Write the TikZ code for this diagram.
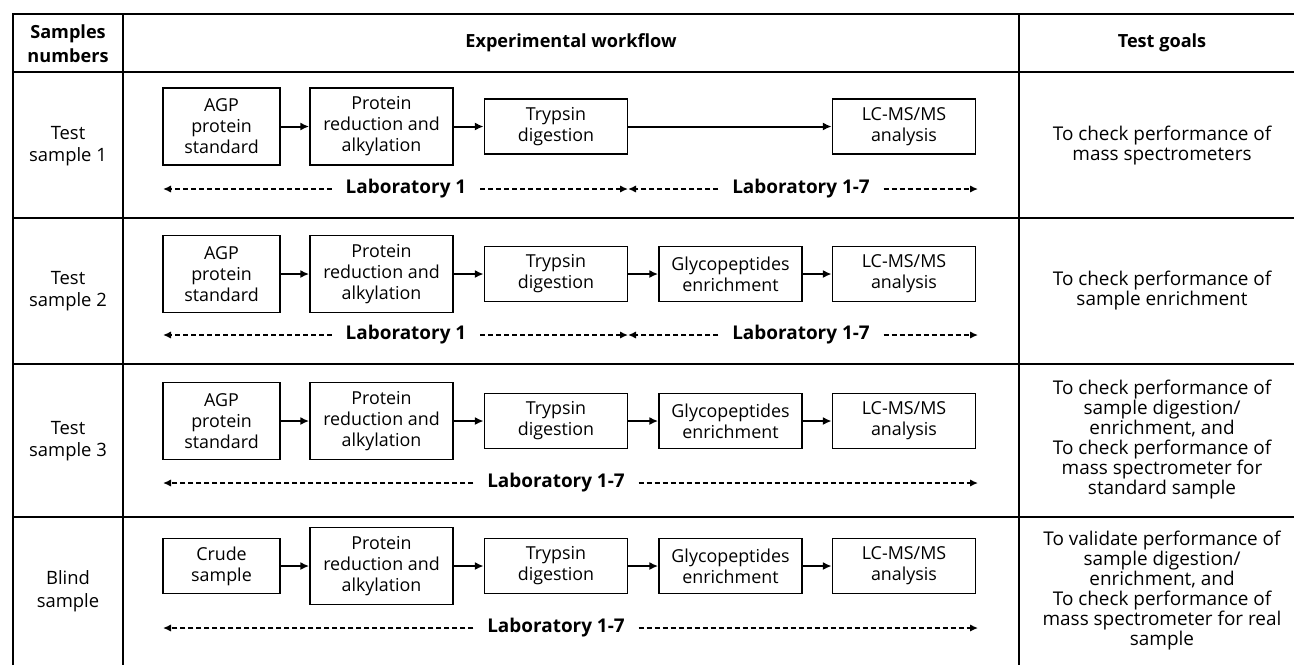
\documentclass[tikz,border=0pt]{standalone}
\usepackage{fontspec}
\setmainfont{Open Sans}
\usetikzlibrary{arrows.meta}

\tikzset{every picture/.style={line width=0.75pt}}
\tikzset{
  stepbox/.style={draw,line width=1.1pt,align=center,inner sep=0pt,font=\fontsize{13.4}{15.75}\selectfont},
  boxwide/.style={minimum width=107.5pt},
  boxnarrow/.style={minimum width=87.75pt},
  boxtall/.style={minimum height=57.75pt},
  boxshort/.style={minimum height=41.25pt},
  flow/.style={line width=1.5pt,-{Latex[length=6.5pt,width=6pt]}},
  span/.style={line width=1.1pt,dash pattern=on 3.8pt off 2.2pt,-{Latex[length=6pt,width=5.5pt]}},
  lab/.style={font=\fontsize{14.2}{15}\selectfont\bfseries,inner sep=0pt},
  cell/.style={align=center,inner sep=0pt,font=\fontsize{14.2}{15}\selectfont},
  rowname/.style={align=center,inner sep=0pt,font=\fontsize{13.8}{17}\selectfont},
  head/.style={align=center,inner sep=0pt,font=\fontsize{13.6}{18}\selectfont\bfseries},
  grid/.style={line width=1.1pt}
}

\begin{document}
\begin{tikzpicture}[x=0.75pt,y=0.75pt,yscale=-1,xscale=1]
    \useasboundingbox (0,0) rectangle (1294,665);
    % Table lines
    \draw[grid] (13,665) -- (13,14) -- (1294,14);
    \draw[grid] (123,14) -- (123,665);
    \draw[grid] (1019,14) -- (1019,665);
    \draw[grid] (13,72) -- (1294,72);
    \draw[grid] (13,218) -- (1294,218);
    \draw[grid] (13,364) -- (1294,364);
    \draw[grid] (13,517) -- (1294,517);
    % Header
    \node[head] (hsample) at (68,44) {Samples\\numbers};
    \node[head] (hflow) at (571,43) {Experimental workflow};
    \node[head] (hgoal) at (1162,43) {Test goals};
    % Sample names
    \node[rowname] (s1) at (68,146) {Test\\sample 1};
    \node[rowname] (s2) at (68,291) {Test\\sample 2};
    \node[rowname] (s3) at (68,441) {Test\\sample 3};
    \node[rowname] (s4) at (68,591) {Blind\\sample};
    % Test goals
    \node[cell] (g1) at (1162,146) {To check performance of\\mass spectrometers};
    \node[cell] (g2) at (1162,291) {To check performance of\\sample enrichment};
    \node[cell] (g3) at (1162,440) {To check performance of\\sample digestion/\\enrichment, and\\To check performance of\\mass spectrometer for\\standard sample};
    \node[cell] (g4) at (1162,591) {To validate performance of\\sample digestion/\\enrichment, and\\To check performance of\\mass spectrometer for real\\sample};

    % Row 1
    \node[stepbox,boxnarrow,boxtall] (agp1) at (221.5,126.5) {AGP\\protein\\standard};
    \node[stepbox,boxwide,boxtall] (red1) at (381.5,126.5) {Protein\\reduction and\\alkylation};
    \node[stepbox,boxwide,boxshort] (try1) at (556,126.5) {Trypsin\\digestion};
    \node[stepbox,boxwide,boxshort] (lc1) at (904,126.5) {LC-MS/MS\\analysis};
    \draw[flow] (agp1) -- (red1);
    \draw[flow] (red1) -- (try1);
    \draw[flow] (try1) -- (lc1);
    \node[lab] (labA1) at (406,189) {Laboratory 1};
    \node[lab] (labB1) at (801,189) {Laboratory 1-7};
    \coordinate (a1l) at (163,189);
    \coordinate (a1m) at (628,189);
    \coordinate (a1r) at (978,189);
    \draw[span] ([xshift=-10pt]labA1.west) -- (a1l);
    \draw[span] ([xshift=10pt]labA1.east) -- (a1m);
    \draw[span] ([xshift=-10pt]labB1.west) -- (a1m);
    \draw[span] ([xshift=10pt]labB1.east) -- (a1r);

    % Row 2
    \node[stepbox,boxnarrow,boxtall] (agp2) at (221.5,274) {AGP\\protein\\standard};
    \node[stepbox,boxwide,boxtall] (red2) at (381.5,274) {Protein\\reduction and\\alkylation};
    \node[stepbox,boxwide,boxshort] (try2) at (556,274) {Trypsin\\digestion};
    \node[stepbox,boxwide,boxshort] (gly2) at (730.5,274) {Glycopeptides\\enrichment};
    \node[stepbox,boxwide,boxshort] (lc2) at (904,274) {LC-MS/MS\\analysis};
    \draw[flow] (agp2) -- (red2);
    \draw[flow] (red2) -- (try2);
    \draw[flow] (try2) -- (gly2);
    \draw[flow] (gly2) -- (lc2);
    \node[lab] (labA2) at (406,335) {Laboratory 1};
    \node[lab] (labB2) at (801,335) {Laboratory 1-7};
    \coordinate (a2l) at (163,335);
    \coordinate (a2m) at (628,335);
    \coordinate (a2r) at (978,335);
    \draw[span] ([xshift=-10pt]labA2.west) -- (a2l);
    \draw[span] ([xshift=10pt]labA2.east) -- (a2m);
    \draw[span] ([xshift=-10pt]labB2.west) -- (a2m);
    \draw[span] ([xshift=10pt]labB2.east) -- (a2r);

    % Row 3
    \node[stepbox,boxnarrow,boxtall] (agp3) at (221.5,421) {AGP\\protein\\standard};
    \node[stepbox,boxwide,boxtall] (red3) at (381.5,421) {Protein\\reduction and\\alkylation};
    \node[stepbox,boxwide,boxshort] (try3) at (556,421) {Trypsin\\digestion};
    \node[stepbox,boxwide,boxshort] (gly3) at (730.5,421) {Glycopeptides\\enrichment};
    \node[stepbox,boxwide,boxshort] (lc3) at (904,421) {LC-MS/MS\\analysis};
    \draw[flow] (agp3) -- (red3);
    \draw[flow] (red3) -- (try3);
    \draw[flow] (try3) -- (gly3);
    \draw[flow] (gly3) -- (lc3);
    \node[lab] (lab3) at (556,483) {Laboratory 1-7};
    \coordinate (a3l) at (163,483);
    \coordinate (a3r) at (978,483);
    \draw[span] ([xshift=-10pt]lab3.west) -- (a3l);
    \draw[span] ([xshift=10pt]lab3.east) -- (a3r);

    % Row 4
    \node[stepbox,boxnarrow,boxshort] (crude4) at (221.5,566) {Crude\\sample};
    \node[stepbox,boxwide,boxtall] (red4) at (381.5,566) {Protein\\reduction and\\alkylation};
    \node[stepbox,boxwide,boxshort] (try4) at (556,566) {Trypsin\\digestion};
    \node[stepbox,boxwide,boxshort] (gly4) at (730.5,566) {Glycopeptides\\enrichment};
    \node[stepbox,boxwide,boxshort] (lc4) at (904,566) {LC-MS/MS\\analysis};
    \draw[flow] (crude4) -- (red4);
    \draw[flow] (red4) -- (try4);
    \draw[flow] (try4) -- (gly4);
    \draw[flow] (gly4) -- (lc4);
    \node[lab] (lab4) at (556,628) {Laboratory 1-7};
    \coordinate (a4l) at (163,628);
    \coordinate (a4r) at (978,628);
    \draw[span] ([xshift=-10pt]lab4.west) -- (a4l);
    \draw[span] ([xshift=10pt]lab4.east) -- (a4r);
\end{tikzpicture}
\end{document}
